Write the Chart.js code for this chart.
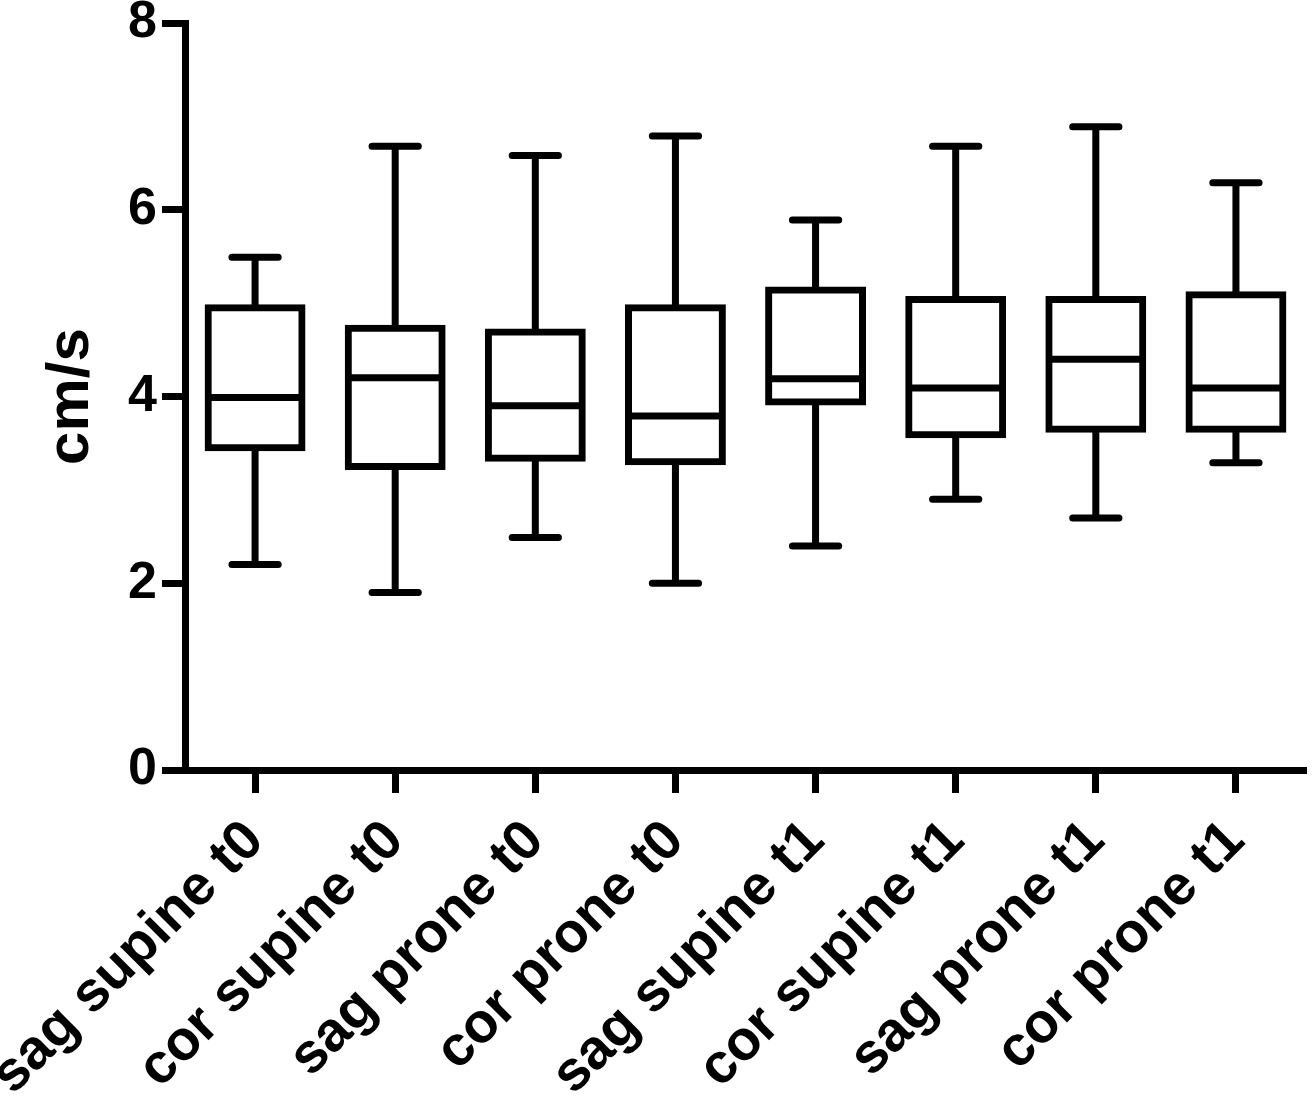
<!DOCTYPE html>
<html>
<head>
<meta charset="utf-8">
<script src="https://cdn.jsdelivr.net/npm/chart.js@4.4.1/dist/chart.umd.min.js"></script>
<style>
  html, body { margin: 0; padding: 0; background: #fff; }
  #wrap { width: 1312px; height: 1100px; position: relative; }
</style>
</head>
<body>
<div id="wrap"><canvas id="chart"></canvas></div>
<script>
// box plot values (cm/s)
const categories = ["sag supine t0", "cor supine t0", "sag prone t0", "cor prone t0",
                    "sag supine t1", "cor supine t1", "sag prone t1", "cor prone t1"];
const minValues    = [2.20, 1.90, 2.49, 2.00, 2.40, 2.90, 2.70, 3.29];
const q1Values     = [3.45, 3.25, 3.34, 3.30, 3.94, 3.59, 3.65, 3.65];
const medianValues = [3.99, 4.20, 3.90, 3.79, 4.19, 4.09, 4.40, 4.09];
const q3Values     = [4.95, 4.73, 4.69, 4.95, 5.14, 5.04, 5.04, 5.09];
const maxValues    = [5.49, 6.68, 6.58, 6.79, 5.89, 6.68, 6.89, 6.29];
const yTicks = [0, 2, 4, 6, 8];

const LINE = 7;
const FONT = "'Liberation Sans', Arial, sans-serif";

// whiskers + caps under the boxes, medians on top
const boxPlotLines = {
  id: "boxPlotLines",
  beforeDatasetsDraw(chart) {
    const { ctx } = chart;
    const x = chart.scales.x, y = chart.scales.y;
    const capHalf = x.width / categories.length * 0.165;
    ctx.save();
    ctx.strokeStyle = "#000";
    ctx.lineWidth = LINE;
    categories.forEach((_, i) => {
      const cx = x.getPixelForValue(i);
      ctx.lineCap = "butt";
      ctx.beginPath();
      ctx.moveTo(cx, y.getPixelForValue(maxValues[i]));
      ctx.lineTo(cx, y.getPixelForValue(q3Values[i]));
      ctx.moveTo(cx, y.getPixelForValue(q1Values[i]));
      ctx.lineTo(cx, y.getPixelForValue(minValues[i]));
      ctx.stroke();
      ctx.lineCap = "round";
      ctx.beginPath();
      [maxValues[i], minValues[i]].forEach(v => {
        const py = y.getPixelForValue(v);
        ctx.moveTo(cx - capHalf, py);
        ctx.lineTo(cx + capHalf, py);
      });
      ctx.stroke();
    });
    ctx.restore();
  },
  afterDatasetsDraw(chart) {
    const { ctx } = chart;
    const y = chart.scales.y;
    const bars = chart.getDatasetMeta(0).data;
    ctx.save();
    ctx.strokeStyle = "#000";
    ctx.lineWidth = LINE;
    bars.forEach((bar, i) => {
      const py = y.getPixelForValue(medianValues[i]);
      ctx.beginPath();
      ctx.moveTo(bar.x - bar.width / 2, py);
      ctx.lineTo(bar.x + bar.width / 2, py);
      ctx.stroke();
    });
    ctx.restore();
  }
};

new Chart(document.getElementById("chart"), {
  type: "bar",
  data: {
    labels: categories,
    datasets: [{
      data: q1Values.map((q1, i) => [q1, q3Values[i]]),
      backgroundColor: "#fff",
      borderColor: "#000",
      borderWidth: LINE,
      borderSkipped: false,
      inflateAmount: LINE / 2,
      barPercentage: 0.67,
      categoryPercentage: 1
    }]
  },
  options: {
    responsive: true,
    maintainAspectRatio: false,
    animation: false,
    layout: { padding: { top: 23, right: 6, left: 0, bottom: 0 } },
    plugins: { legend: { display: false }, tooltip: { enabled: false } },
    scales: {
      x: {
        grid: { display: true, drawOnChartArea: false, offset: false, tickLength: 23, tickWidth: LINE, tickColor: "#000" },
        border: { display: true, color: "#000", width: LINE },
        ticks: {
          autoSkip: false, minRotation: 45, maxRotation: 45,
          padding: 15, labelOffset: 0,
          color: "#000", font: { family: FONT, size: 56, weight: "bold" }
        },
        afterFit(scale) {
          scale.height = 330;
          scale.paddingLeft = 0;
          scale.paddingRight = 0;
        }
      },
      y: {
        min: 0, max: 8,
        afterBuildTicks(scale) { scale.ticks = yTicks.map(v => ({ value: v })); },
        grid: { display: true, drawOnChartArea: false, tickLength: 23, tickWidth: LINE, tickColor: "#000" },
        border: { display: true, color: "#000", width: LINE },
        ticks: { padding: 5, color: "#000", font: { family: FONT, size: 52, weight: "bold" } },
        title: {
          display: true, text: "cm/s", color: "#000",
          font: { family: FONT, size: 60, weight: "bold" },
          padding: { top: 35, bottom: 0 }
        },
        afterFit(scale) {
          scale.width = 185;
          scale.paddingTop = 0;
          scale.paddingBottom = 0;
        }
      }
    }
  },
  plugins: [boxPlotLines]
});
</script>
</body>
</html>
